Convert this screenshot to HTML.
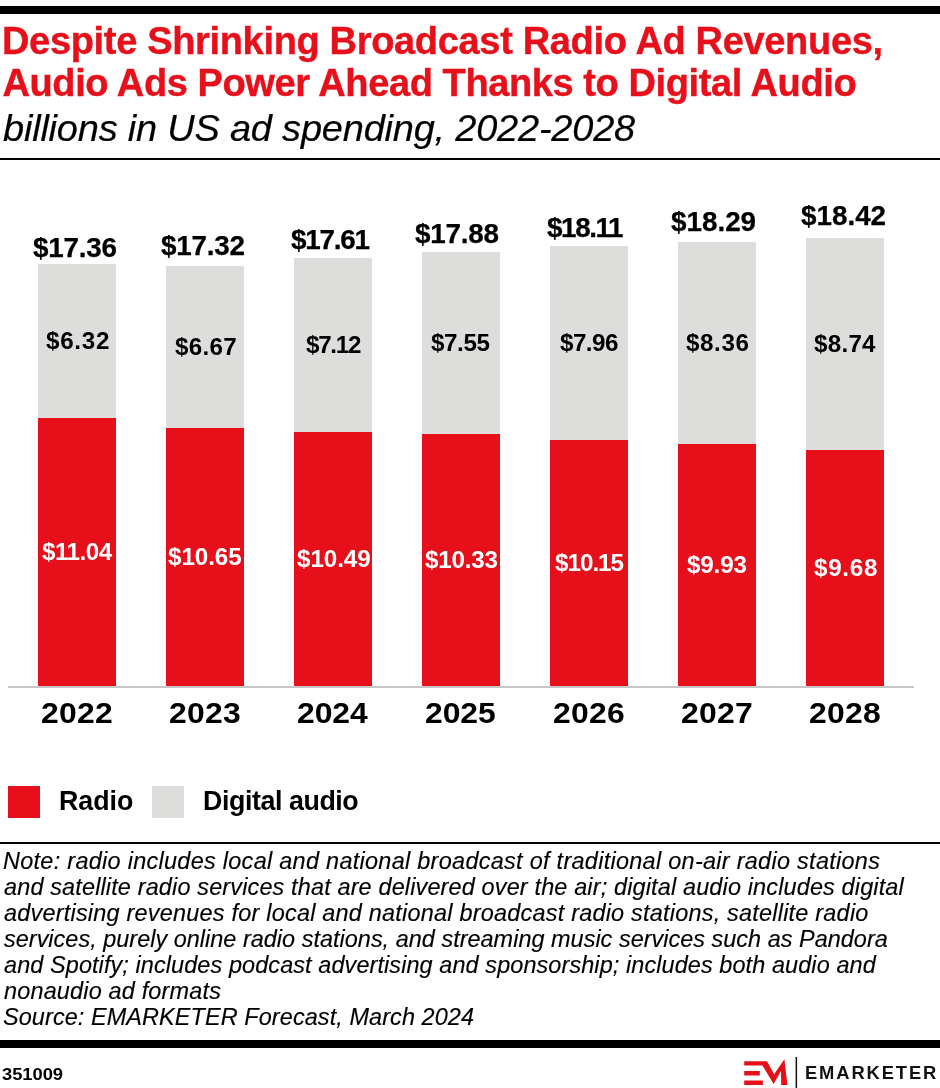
<!DOCTYPE html>
<html lang="en"><head><meta charset="utf-8"><title>Audio Ads</title>
<style>
html,body{margin:0;padding:0;background:#fff;}
body{width:940px;height:1088px;position:relative;overflow:hidden;font-family:"Liberation Sans",sans-serif;color:#000;}
.sh{position:absolute;}
.g{background:#dddddc;}
.r{background:#e7101a;}
.tx{position:absolute;white-space:nowrap;font-weight:bold;line-height:1;}
.it{font-style:italic;font-weight:normal;}
</style></head><body>
<div class="sh" style="left:0;top:6px;width:940px;height:8px;background:#000"></div>
<div class="sh" style="left:0;top:158px;width:940px;height:2px;background:#000"></div>

<div class="sh g" style="left:38px;top:264px;width:78px;height:154px"></div>
<div class="sh r" style="left:38px;top:418px;width:78px;height:268px"></div>
<div class="sh g" style="left:166px;top:266px;width:78px;height:162px"></div>
<div class="sh r" style="left:166px;top:428px;width:78px;height:258px"></div>
<div class="sh g" style="left:294px;top:258px;width:78px;height:174px"></div>
<div class="sh r" style="left:294px;top:432px;width:78px;height:254px"></div>
<div class="sh g" style="left:422px;top:252px;width:78px;height:182px"></div>
<div class="sh r" style="left:422px;top:434px;width:78px;height:252px"></div>
<div class="sh g" style="left:550px;top:246px;width:78px;height:194px"></div>
<div class="sh r" style="left:550px;top:440px;width:78px;height:246px"></div>
<div class="sh g" style="left:678px;top:242px;width:78px;height:202px"></div>
<div class="sh r" style="left:678px;top:444px;width:78px;height:242px"></div>
<div class="sh g" style="left:806px;top:238px;width:78px;height:212px"></div>
<div class="sh r" style="left:806px;top:450px;width:78px;height:236px"></div>
<div class="sh" style="left:8px;top:686px;width:906px;height:2px;background:#c6c6c6"></div>
<div class="sh r" style="left:8px;top:786px;width:32px;height:32px"></div>
<div class="sh g" style="left:152px;top:786px;width:32px;height:32px"></div>
<div class="sh" style="left:0;top:842px;width:940px;height:2px;background:#000"></div>
<div class="sh" style="left:0;top:1040px;width:940px;height:8px;background:#000"></div>
<svg class="sh" style="left:740px;top:1052px" width="200" height="36" viewBox="740 1052 200 36">
<g fill="#e7101a">
<path d="M744.2 1061.2H767L774.1 1074.3L784.4 1059.3L787.4 1085H781.2L781 1071L773.6 1084L762.5 1065.6H744.2Z"/>
<path d="M744.2 1070.9h15.6v4.5h-15.6z M744.2 1080.4h18.7v4.7h-18.7z"/>
</g>
<rect x="795.6" y="1057" width="1.5" height="31" fill="#111"/>
</svg>

<div class="tx" id="t1" style="left:2.00px;top:21.73px;font-size:38.0px;letter-spacing:-0.333px;color:#e7101a;-webkit-text-stroke:0.4px #e7101a;">Despite Shrinking Broadcast Radio Ad Revenues,</div>
<div class="tx" id="t2" style="left:2.50px;top:63.73px;font-size:38.0px;letter-spacing:-0.405px;color:#e7101a;-webkit-text-stroke:0.4px #e7101a;">Audio Ads Power Ahead Thanks to Digital Audio</div>
<div class="tx it" id="sub" style="left:3.00px;top:111.10px;font-size:36.5px;letter-spacing:-0.193px;transform:scaleX(1.04);transform-origin:0 0;-webkit-text-stroke:0.2px #000;">billions in US ad spending, 2022-2028</div>
<div class="tx" id="tot0" style="left:33.00px;top:234.84px;font-size:27.0px;letter-spacing:-0.194px;transform:scaleX(1.03);transform-origin:0 0;-webkit-text-stroke:0.25px #000;">$17.36</div>
<div class="tx" id="g0" style="left:45.50px;top:329.51px;font-size:23.5px;letter-spacing:0.681px;transform:scaleX(1.03);transform-origin:0 0;">$6.32</div>
<div class="tx" id="r0" style="left:42.00px;top:540.51px;font-size:23.5px;letter-spacing:-0.504px;color:#fff;transform:scaleX(1.03);transform-origin:0 0;">$11.04</div>
<div class="tx" id="y0" style="left:41.00px;top:699.45px;font-size:29.0px;letter-spacing:0.244px;transform:scaleX(1.1);transform-origin:0 0;">2022</div>
<div class="tx" id="tot1" style="left:161.00px;top:232.84px;font-size:27.0px;letter-spacing:-0.195px;transform:scaleX(1.03);transform-origin:0 0;-webkit-text-stroke:0.25px #000;">$17.32</div>
<div class="tx" id="g1" style="left:174.50px;top:335.51px;font-size:23.5px;letter-spacing:0.292px;transform:scaleX(1.03);transform-origin:0 0;">$6.67</div>
<div class="tx" id="r1" style="left:168.00px;top:545.51px;font-size:23.5px;letter-spacing:-0.078px;color:#fff;transform:scaleX(1.03);transform-origin:0 0;">$10.65</div>
<div class="tx" id="y1" style="left:169.00px;top:699.45px;font-size:29.0px;letter-spacing:0.244px;transform:scaleX(1.1);transform-origin:0 0;">2023</div>
<div class="tx" id="tot2" style="left:291.00px;top:227.34px;font-size:27.0px;letter-spacing:-1.165px;transform:scaleX(1.03);transform-origin:0 0;-webkit-text-stroke:0.25px #000;">$17.61</div>
<div class="tx" id="g2" style="left:305.50px;top:333.51px;font-size:23.5px;letter-spacing:-1.261px;transform:scaleX(1.03);transform-origin:0 0;">$7.12</div>
<div class="tx" id="r2" style="left:296.50px;top:547.51px;font-size:23.5px;letter-spacing:-0.076px;color:#fff;transform:scaleX(1.03);transform-origin:0 0;">$10.49</div>
<div class="tx" id="y2" style="left:297.00px;top:699.45px;font-size:29.0px;letter-spacing:-0.059px;transform:scaleX(1.1);transform-origin:0 0;">2024</div>
<div class="tx" id="tot3" style="left:415.00px;top:221.09px;font-size:27.0px;letter-spacing:-0.194px;transform:scaleX(1.03);transform-origin:0 0;-webkit-text-stroke:0.25px #000;">$17.88</div>
<div class="tx" id="g3" style="left:431.00px;top:331.51px;font-size:23.5px;letter-spacing:-0.388px;transform:scaleX(1.03);transform-origin:0 0;">$7.55</div>
<div class="tx" id="r3" style="left:424.50px;top:548.51px;font-size:23.5px;letter-spacing:-0.194px;color:#fff;transform:scaleX(1.03);transform-origin:0 0;">$10.33</div>
<div class="tx" id="y3" style="left:425.00px;top:699.45px;font-size:29.0px;letter-spacing:-0.059px;transform:scaleX(1.1);transform-origin:0 0;">2025</div>
<div class="tx" id="tot4" style="left:547.00px;top:215.34px;font-size:27.0px;letter-spacing:-1.359px;transform:scaleX(1.03);transform-origin:0 0;-webkit-text-stroke:0.25px #000;">$18.11</div>
<div class="tx" id="g4" style="left:560.00px;top:331.51px;font-size:23.5px;letter-spacing:-0.534px;transform:scaleX(1.03);transform-origin:0 0;">$7.96</div>
<div class="tx" id="r4" style="left:554.50px;top:551.51px;font-size:23.5px;letter-spacing:-0.971px;color:#fff;transform:scaleX(1.03);transform-origin:0 0;">$10.15</div>
<div class="tx" id="y4" style="left:553.00px;top:699.45px;font-size:29.0px;letter-spacing:0.244px;transform:scaleX(1.1);transform-origin:0 0;">2026</div>
<div class="tx" id="tot5" style="left:671.00px;top:209.34px;font-size:27.0px;transform:scaleX(1.03);transform-origin:0 0;-webkit-text-stroke:0.25px #000;">$18.29</div>
<div class="tx" id="g5" style="left:685.50px;top:331.51px;font-size:23.5px;letter-spacing:0.583px;transform:scaleX(1.03);transform-origin:0 0;">$8.36</div>
<div class="tx" id="r5" style="left:687.00px;top:553.51px;font-size:23.5px;letter-spacing:-0.145px;color:#fff;transform:scaleX(1.03);transform-origin:0 0;">$9.93</div>
<div class="tx" id="y5" style="left:681.00px;top:699.45px;font-size:29.0px;letter-spacing:0.244px;transform:scaleX(1.1);transform-origin:0 0;">2027</div>
<div class="tx" id="tot6" style="left:801.00px;top:203.34px;font-size:27.0px;transform:scaleX(1.03);transform-origin:0 0;-webkit-text-stroke:0.25px #000;">$18.42</div>
<div class="tx" id="g6" style="left:814.00px;top:332.51px;font-size:23.5px;letter-spacing:0.243px;transform:scaleX(1.03);transform-origin:0 0;">$8.74</div>
<div class="tx" id="r6" style="left:814.00px;top:556.51px;font-size:23.5px;letter-spacing:0.679px;color:#fff;transform:scaleX(1.03);transform-origin:0 0;">$9.68</div>
<div class="tx" id="y6" style="left:809.00px;top:699.45px;font-size:29.0px;letter-spacing:0.244px;transform:scaleX(1.1);transform-origin:0 0;">2028</div>
<div class="tx" id="l1" style="left:59.00px;top:786.17px;font-size:28.5px;transform:scaleX(0.94);transform-origin:0 0;">Radio</div>
<div class="tx" id="l2" style="left:203.00px;top:786.17px;font-size:28.5px;letter-spacing:-0.444px;transform:scaleX(0.94);transform-origin:0 0;">Digital audio</div>
<div class="tx it" id="n0" style="left:2.50px;top:850.23px;font-size:23.0px;letter-spacing:0.277px;transform:scaleX(1.02);transform-origin:0 0;-webkit-text-stroke:0.15px #000;">Note: radio includes local and national broadcast of traditional on-air radio stations</div>
<div class="tx it" id="n1" style="left:3.50px;top:876.23px;font-size:23.0px;letter-spacing:0.140px;transform:scaleX(1.02);transform-origin:0 0;-webkit-text-stroke:0.15px #000;">and satellite radio services that are delivered over the air; digital audio includes digital</div>
<div class="tx it" id="n2" style="left:3.50px;top:902.23px;font-size:23.0px;letter-spacing:0.210px;transform:scaleX(1.02);transform-origin:0 0;-webkit-text-stroke:0.15px #000;">advertising revenues for local and national broadcast radio stations, satellite radio</div>
<div class="tx it" id="n3" style="left:3.50px;top:928.23px;font-size:23.0px;letter-spacing:0.012px;transform:scaleX(1.02);transform-origin:0 0;-webkit-text-stroke:0.15px #000;">services, purely online radio stations, and streaming music services such as Pandora</div>
<div class="tx it" id="n4" style="left:3.50px;top:954.23px;font-size:23.0px;letter-spacing:0.085px;transform:scaleX(1.02);transform-origin:0 0;-webkit-text-stroke:0.15px #000;">and Spotify; includes podcast advertising and sponsorship; includes both audio and</div>
<div class="tx it" id="n5" style="left:3.50px;top:980.23px;font-size:23.0px;letter-spacing:0.164px;transform:scaleX(1.02);transform-origin:0 0;-webkit-text-stroke:0.15px #000;">nonaudio ad formats</div>
<div class="tx it" id="n6" style="left:2.50px;top:1006.23px;font-size:23.0px;letter-spacing:0.079px;transform:scaleX(1.02);transform-origin:0 0;-webkit-text-stroke:0.15px #000;">Source: EMARKETER Forecast, March 2024</div>
<div class="tx" id="cid" style="left:2.00px;top:1065.61px;font-size:17.0px;letter-spacing:-0.037px;transform:scaleX(1.08);transform-origin:0 0;">351009</div>
<div class="tx" id="lg" style="left:805.00px;top:1064.36px;font-size:18.0px;letter-spacing:1.838px;color:#111;transform:scaleX(1.02);transform-origin:0 0;">EMARKETER</div>
</body></html>
